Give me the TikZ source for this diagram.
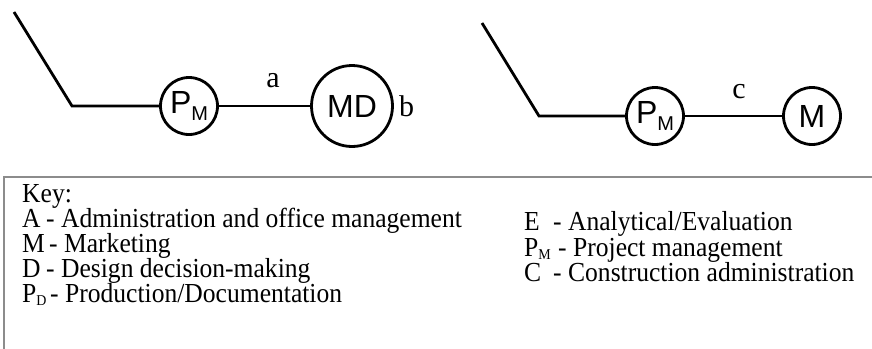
\documentclass[tikz,border=0pt]{standalone}
\usepackage{fontspec}
\setmainfont{Liberation Serif}
\newfontfamily\circfont{Liberation Sans}
\newfontfamily\keyfont[FakeStretch=0.93]{Liberation Serif}
\begin{document}
\begin{tikzpicture}[x=1pt,y=-1pt,
  wire/.style={line width=2.8pt,line join=miter},
  role/.style={circle,draw,line width=2.8pt,inner sep=0pt,minimum size=57pt,
    font=\circfont\fontsize{32}{32}\selectfont},
  bigrole/.style={role,minimum size=81pt},
  tag/.style={font=\fontsize{30}{30}\selectfont,inner sep=0pt,anchor=base},
  keytext/.style={font=\keyfont\fontsize{27.5}{29}\selectfont,inner sep=0pt,
    text height=18pt,text depth=5pt,anchor=base west},
  keyframe/.style={draw=black!45,line width=1.5pt}]
\useasboundingbox (0,0) rectangle (872,348);

% first chain: P_M -- MD
\coordinate (s1) at (14,12);
\coordinate (k1) at (72,106);
\node[role] (pm1) at (189,106) {P\raisebox{-7pt}{\fontsize{20}{20}\selectfont M}};
\node[bigrole] (md) at (352,106) {MD};
\draw[wire] (s1) -- (k1) -- (pm1.west);
\draw[wire] (pm1) -- (md);
\node[tag] (la) at (273,87) {a};
\node[tag,anchor=base west] (lb) at (399,116) {b};

% second chain: P_M -- M
\coordinate (s2) at (482,23);
\coordinate (k2) at (539,116);
\node[role] (pm2) at (655,116) {P\raisebox{-7pt}{\fontsize{20}{20}\selectfont M}};
\node[role] (m2) at (812,116) {M};
\draw[wire] (s2) -- (k2) -- (pm2.west);
\draw[wire] (pm2) -- (m2);
\node[tag] (lc) at (739,98) {c};

% key frame
\coordinate (fr) at (880,177);
\coordinate (fc) at (4,177);
\coordinate (fb) at (4,356);
\draw[keyframe] (fr) -- (fc) -- (fb);

% key, left column
\node[keytext] (key) at (22,202) {Key:};
\node[keytext] (kA) at (22,227) {A};
\node[keytext] (tA) at (46,227) {- Administration and office management};
\node[keytext] (kM) at (22,252) {M};
\node[keytext] (tM) at (49,252) {- Marketing};
\node[keytext] (kD) at (22,277) {D};
\node[keytext] (tD) at (46,277) {- Design decision-making};
\node[keytext] (kP) at (22,302) {P\raisebox{-3pt}{\fontsize{15}{15}\selectfont D}};
\node[keytext] (tP) at (50,302) {- Production/Documentation};

% key, right column
\node[keytext] (kE) at (524,230.5) {E};
\node[keytext] (tE) at (553,230.5) {- Analytical/Evaluation};
\node[keytext] (kPM) at (524,256) {P\raisebox{-3pt}{\fontsize{15}{15}\selectfont M}};
\node[keytext] (tPM) at (558,256) {- Project management};
\node[keytext] (kC) at (524,281.5) {C};
\node[keytext] (tC) at (553,281.5) {- Construction administration};
\end{tikzpicture}
\end{document}
